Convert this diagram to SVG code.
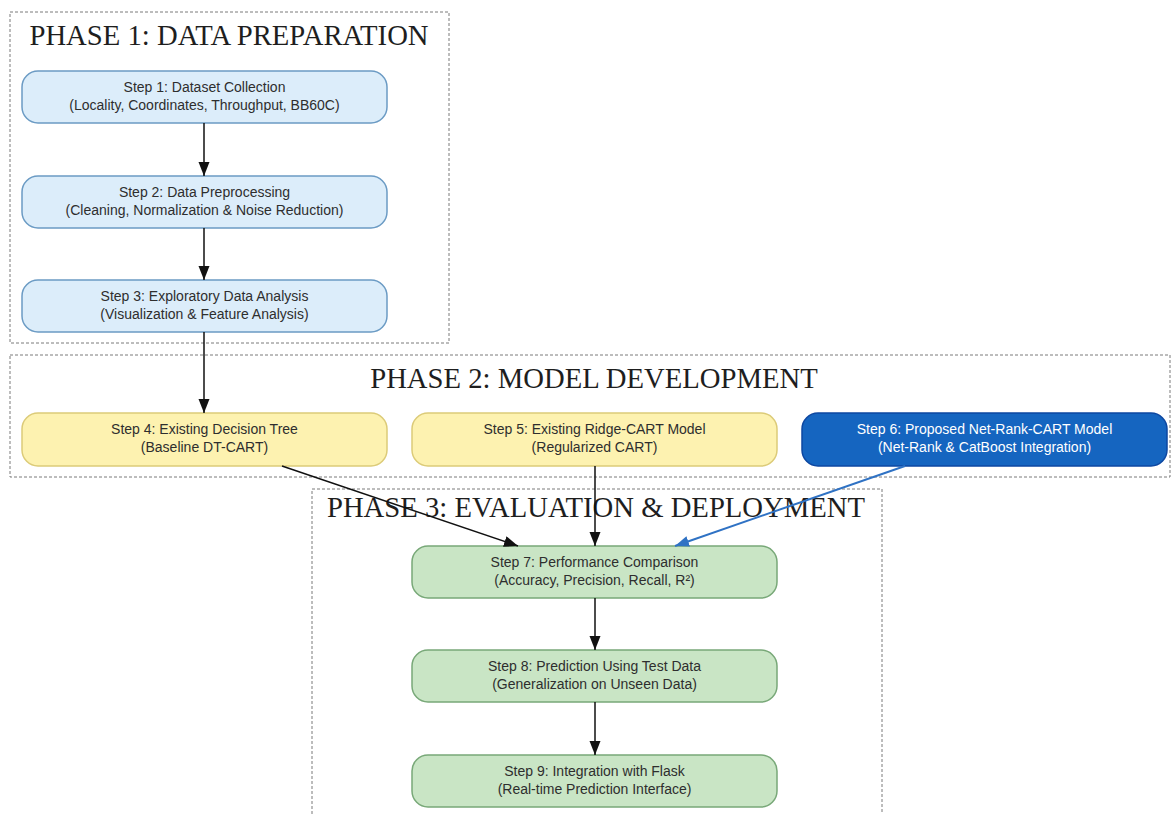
<svg xmlns="http://www.w3.org/2000/svg" width="1173" height="814" viewBox="0 0 1173 814">
<style>
.cluster{fill:none;stroke:#7a7a7a;stroke-width:1;stroke-dasharray:3,2}
.title{font-family:"Liberation Serif","Times New Roman",serif;font-size:28.7px;fill:#1e1e1e;text-anchor:middle}
.lbl{font-family:"Liberation Sans",Arial,sans-serif;font-size:14px;fill:#2e2e2e;text-anchor:middle}
.p1{fill:#dcedfa;stroke:#6b9bc4;stroke-width:1.5}
.p2{fill:#fdf2b0;stroke:#dccb78;stroke-width:1.5}
.p2b{fill:#1565c0;stroke:#0d47a1;stroke-width:1.5}
.p3{fill:#c9e5c5;stroke:#78a878;stroke-width:1.5}
.wt{fill:#ffffff}
.edge{fill:none;stroke:#111;stroke-width:1.5}
.edgeb{fill:none;stroke:#2f72c4;stroke-width:2}
</style>
<defs>
<marker id="ah" markerUnits="userSpaceOnUse" markerWidth="16" markerHeight="12" refX="14" refY="5.5" orient="auto">
<path d="M0,0 L14,5.5 L0,11 z" fill="#111"/>
</marker>
<marker id="ahb" markerUnits="userSpaceOnUse" markerWidth="16" markerHeight="12" refX="14" refY="5.5" orient="auto">
<path d="M0,0 L14,5.5 L0,11 z" fill="#2f72c4"/>
</marker>
</defs>
<rect width="1173" height="814" fill="#ffffff"/>
<g id="phase1">
<rect class="cluster" x="10" y="12" width="439" height="331"/>
<text class="title" x="229" y="45">PHASE 1: DATA PREPARATION</text>
</g>
<g id="phase2">
<rect class="cluster" x="10" y="355" width="1160" height="122"/>
<text class="title" x="594" y="388">PHASE 2: MODEL DEVELOPMENT</text>
</g>
<g id="phase3">
<rect class="cluster" x="312" y="489" width="570" height="340"/>
<text class="title" x="596" y="517">PHASE 3: EVALUATION &amp; DEPLOYMENT</text>
</g>
<g id="step1">
<rect class="p1" x="22" y="71" width="365" height="52" rx="16"/>
<text class="lbl" x="204.5" y="92">Step 1: Dataset Collection</text>
<text class="lbl" x="204.5" y="110">(Locality, Coordinates, Throughput, BB60C)</text>
</g>
<g id="step2">
<rect class="p1" x="22" y="176" width="365" height="52" rx="16"/>
<text class="lbl" x="204.5" y="197">Step 2: Data Preprocessing</text>
<text class="lbl" x="204.5" y="215">(Cleaning, Normalization &amp; Noise Reduction)</text>
</g>
<g id="step3">
<rect class="p1" x="22" y="280" width="365" height="52" rx="16"/>
<text class="lbl" x="204.5" y="301">Step 3: Exploratory Data Analysis</text>
<text class="lbl" x="204.5" y="319">(Visualization &amp; Feature Analysis)</text>
</g>
<g id="step4">
<rect class="p2" x="22" y="413" width="365" height="53" rx="16"/>
<text class="lbl" x="204.5" y="434">Step 4: Existing Decision Tree</text>
<text class="lbl" x="204.5" y="452">(Baseline DT-CART)</text>
</g>
<g id="step5">
<rect class="p2" x="412" y="413" width="365" height="53" rx="16"/>
<text class="lbl" x="594.5" y="434">Step 5: Existing Ridge-CART Model</text>
<text class="lbl" x="594.5" y="452">(Regularized CART)</text>
</g>
<g id="step6">
<rect class="p2b" x="802" y="413" width="365" height="53" rx="16"/>
<text class="lbl wt" x="984.5" y="434">Step 6: Proposed Net-Rank-CART Model</text>
<text class="lbl wt" x="984.5" y="452">(Net-Rank &amp; CatBoost Integration)</text>
</g>
<g id="step7">
<rect class="p3" x="412" y="546" width="365" height="52" rx="16"/>
<text class="lbl" x="594.5" y="567">Step 7: Performance Comparison</text>
<text class="lbl" x="594.5" y="585">(Accuracy, Precision, Recall, R²)</text>
</g>
<g id="step8">
<rect class="p3" x="412" y="650" width="365" height="52" rx="16"/>
<text class="lbl" x="594.5" y="671">Step 8: Prediction Using Test Data</text>
<text class="lbl" x="594.5" y="689">(Generalization on Unseen Data)</text>
</g>
<g id="step9">
<rect class="p3" x="412" y="755" width="365" height="52" rx="16"/>
<text class="lbl" x="594.5" y="776">Step 9: Integration with Flask</text>
<text class="lbl" x="594.5" y="794">(Real-time Prediction Interface)</text>
</g>
<g id="connectors">
<line class="edge" x1="204" y1="123" x2="204" y2="176" marker-end="url(#ah)"/>
<line class="edge" x1="204" y1="228" x2="204" y2="280" marker-end="url(#ah)"/>
<line class="edge" x1="204" y1="332" x2="204" y2="413" marker-end="url(#ah)"/>
<line class="edge" x1="282" y1="466" x2="518" y2="546" marker-end="url(#ah)"/>
<line class="edge" x1="595" y1="466" x2="595" y2="546" marker-end="url(#ah)"/>
<line class="edgeb" x1="905" y1="466" x2="675" y2="546" marker-end="url(#ahb)"/>
<line class="edge" x1="595" y1="598" x2="595" y2="650" marker-end="url(#ah)"/>
<line class="edge" x1="595" y1="702" x2="595" y2="755" marker-end="url(#ah)"/>
</g>
</svg>
